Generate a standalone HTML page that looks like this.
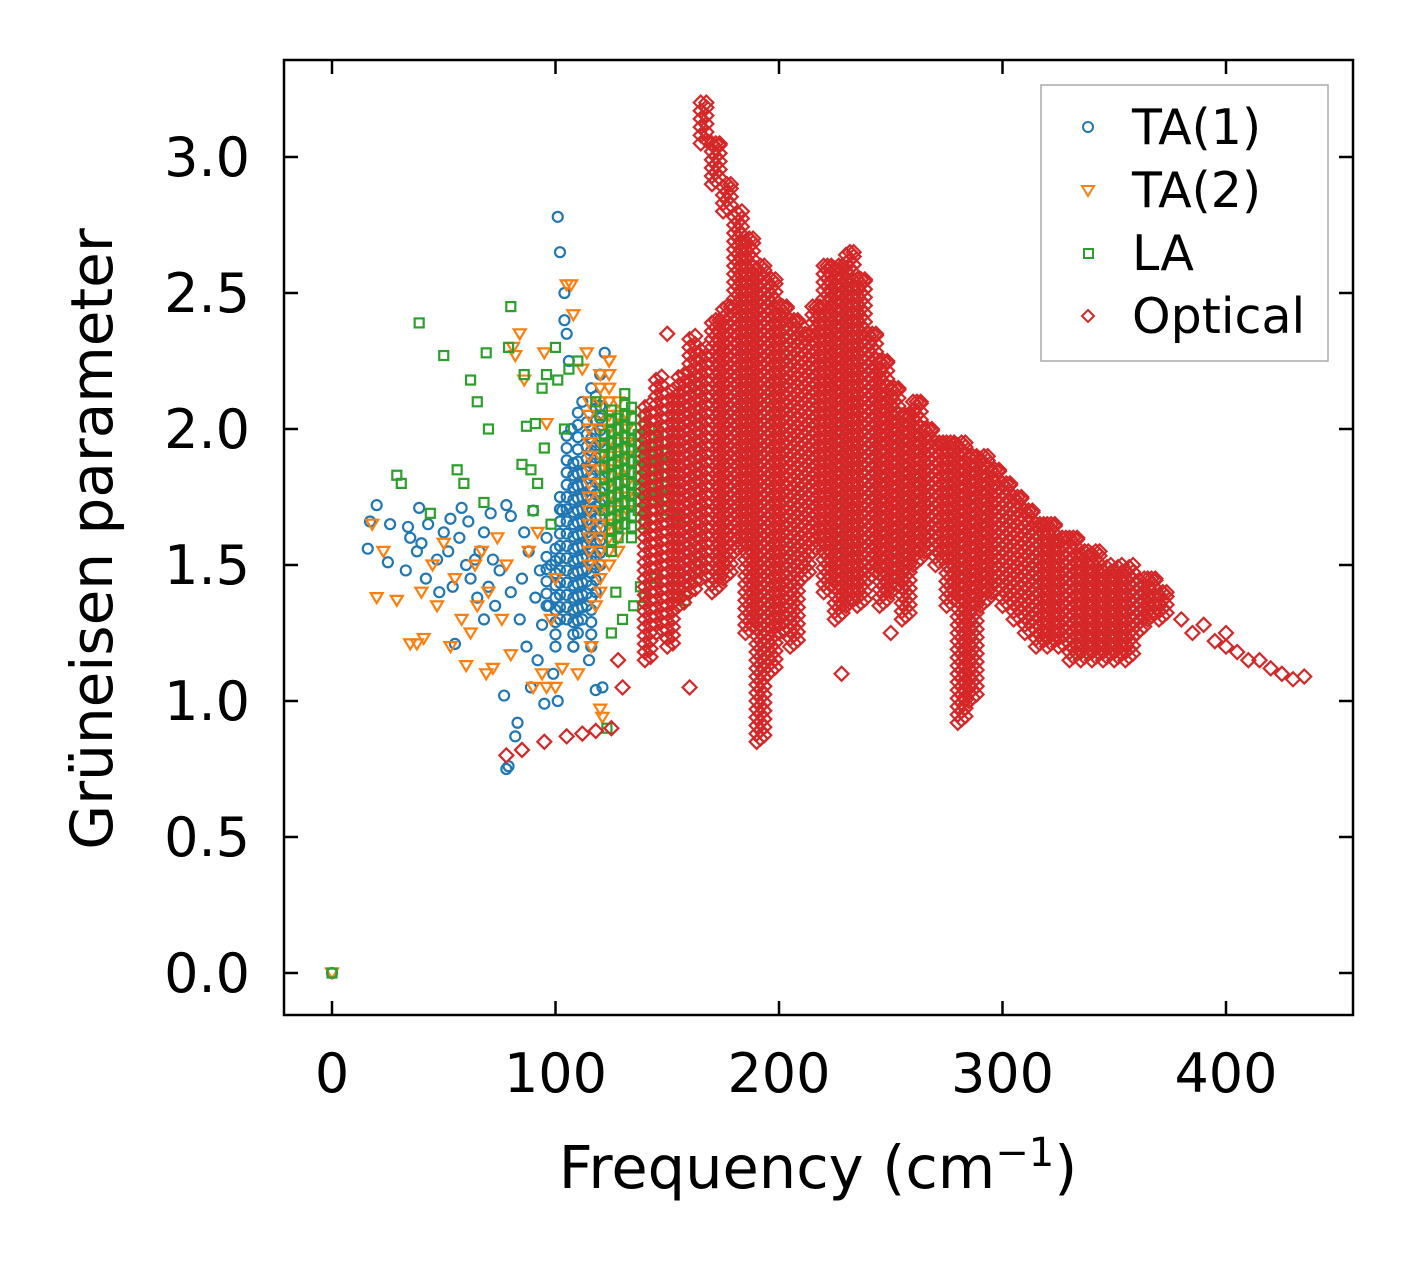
<!DOCTYPE html>
<html><head><meta charset="utf-8"><style>
body{margin:0;background:#fff}
svg{display:block;font-family:"DejaVu Sans","Liberation Sans",sans-serif}
</style></head><body>
<svg id="chart" width="1413" height="1264" viewBox="0 0 1413 1264" xmlns="http://www.w3.org/2000/svg">
<rect width="1413" height="1264" fill="#fff"/>
<g id="marks"></g>
<rect x="284" y="60" width="1069" height="955" fill="none" stroke="#000" stroke-width="2.5"/>
<g id="axes"></g>
<text x="818" y="1188" font-size="59" text-anchor="middle">Frequency (cm<tspan dy="-22" font-size="40">−1</tspan><tspan dy="22">)</tspan></text>
<text transform="translate(112,539) rotate(-90)" font-size="58" text-anchor="middle">Grüneisen parameter</text>
<g>
<rect x="1041" y="85" width="287" height="276" fill="#fff" stroke="#aaa" stroke-width="1.5"/>
<circle cx="1088" cy="127" r="5" fill="none" stroke="#1f77b4" stroke-width="2"/>
<text x="1132" y="144" font-size="49">TA(1)</text>
<path d="M1082,186 L1094,186 L1088,196 Z" fill="none" stroke="#ff7f0e" stroke-width="2"/>
<text x="1132" y="207" font-size="49">TA(2)</text>
<rect x="1084" y="249" width="9" height="9" fill="none" stroke="#2ca02c" stroke-width="2"/>
<text x="1132" y="270" font-size="49">LA</text>
<path d="M1088,310 L1094,316 L1088,322 L1082,316 Z" fill="none" stroke="#d62728" stroke-width="2"/>
<text x="1132" y="333" font-size="49">Optical</text>
</g>
</svg>
<script>
const xTicks = [0, 100, 200, 300, 400];
const yTicks = [0.0, 0.5, 1.0, 1.5, 2.0, 2.5, 3.0];
const yTickLabels = ["0.0","0.5","1.0","1.5","2.0","2.5","3.0"];
const ta1Points = [[0,0],[16,1.56],[17,1.66],[20,1.72],[25,1.51],[26,1.65],[33,1.48],[34,1.64],[35,1.6],[38,1.55],[39,1.71],[40,1.58],[42,1.45],[43,1.65],[47,1.52],[48,1.4],[50,1.62],[52,1.55],[53,1.67],[54,1.42],[55,1.21],[57,1.6],[58,1.71],[60,1.5],[61,1.66],[62,1.45],[64,1.52],[65,1.38],[66,1.55],[68,1.3],[68,1.62],[70,1.42],[71,1.69],[72,1.52],[73,1.35],[75,1.48],[77,1.02],[78,1.72],[79,0.76],[78,0.75],[80,1.68],[80,1.4],[82,0.87],[83,0.92],[84,1.3],[85,1.45],[86,1.62],[87,1.2],[88,1.55],[89,1.05],[90,1.7],[91,1.38],[92,1.15],[93,1.48],[94,1.28],[95,0.99],[96,1.6],[97,1.35],[98,1.5],[99,1.1],[101,2.78],[101,1.0],[102,2.65],[103,1.7],[104,2.5],[104,2.4],[105,2.35],[106,2.25],[107,2.0],[108,1.2],[115,1.15],[118,1.04],[121,1.05],[122,2.28],[120,2.2],[116,2.15],[112,2.1]];
const ta1Bands = [[96,1.35,1.55],[100,1.2,1.6],[102,1.3,1.75],[105,1.3,2.0],[108,1.2,1.9],[110,1.25,2.1],[112,1.3,1.85],[114,1.35,2.05],[116,1.2,2.0],[118,1.4,2.15],[120,1.5,2.1]];
const ta2Points = [[0,0],[18,1.65],[20,1.38],[23,1.55],[29,1.37],[35,1.21],[38,1.21],[40,1.4],[41,1.23],[45,1.5],[47,1.35],[50,1.58],[53,1.2],[55,1.45],[58,1.3],[60,1.13],[62,1.25],[64,1.5],[65,1.35],[67,1.55],[69,1.1],[70,1.4],[72,1.12],[74,1.6],[76,1.3],[78,1.5],[80,1.17],[81,2.3],[82,2.27],[84,2.35],[86,2.18],[88,1.55],[90,1.05],[92,1.62],[94,1.1],[95,2.28],[96,1.05],[98,1.3],[100,1.05],[103,1.12],[105,2.53],[107,2.53],[108,2.42],[110,1.1],[112,2.22],[114,2.28],[116,1.2],[118,1.35],[120,0.97],[121,0.94],[124,2.25],[126,1.65],[128,1.55],[100,1.45],[96,2.02]];
const ta2Bands = [[115,1.5,2.1],[120,1.4,2.2],[124,1.5,2.25],[128,1.6,2.1],[132,1.7,2.05]];
const laPoints = [[0,0],[29,1.83],[31,1.8],[39,2.39],[44,1.69],[50,2.27],[56,1.85],[59,1.8],[62,2.18],[65,2.1],[69,2.28],[70,2.0],[68,1.73],[80,2.45],[79,2.3],[86,2.2],[87,2.01],[85,1.87],[89,1.85],[90,1.7],[91,2.02],[92,1.8],[94,2.15],[95,1.93],[96,2.2],[98,1.65],[100,2.3],[101,2.18],[104,2.0],[106,2.22],[110,2.25],[118,2.1],[123,0.9],[125,1.25],[127,1.4],[130,1.3],[135,1.35],[138,1.42],[140,1.38],[145,1.45],[150,1.7],[154,1.67],[158,1.37],[120,2.05]];
const laBands = [[122,1.7,2.0],[125,1.55,2.1],[128,1.6,2.05],[131,1.65,2.15],[134,1.6,2.1],[137,1.7,2.0],[140,1.65,2.05],[143,1.7,1.95],[146,1.75,2.0],[149,1.75,1.95]];
const opticalBands = [[140,1.15,2.1],[145,1.25,2.2],[150,1.2,2.15],[155,1.35,2.2],[160,1.4,2.35],[165,1.45,2.3],[165,3.05,3.2],[170,1.4,2.4],[170,2.9,3.05],[175,1.45,2.45],[175,2.8,2.9],[180,1.55,2.8],[185,1.25,2.7],[190,0.85,2.6],[195,1.1,2.55],[200,1.25,2.45],[205,1.2,2.4],[210,1.45,2.35],[215,1.55,2.45],[220,1.4,2.6],[225,1.3,2.6],[230,1.35,2.65],[235,1.35,2.55],[240,1.45,2.35],[245,1.35,2.25],[250,1.4,2.15],[255,1.3,2.05],[260,1.5,2.1],[265,1.55,2.0],[270,1.5,1.95],[275,1.35,1.95],[280,0.92,1.95],[285,1.0,1.9],[290,1.35,1.9],[295,1.4,1.85],[300,1.35,1.8],[305,1.3,1.75],[310,1.25,1.7],[315,1.2,1.65],[320,1.2,1.65],[325,1.2,1.6],[330,1.15,1.6],[335,1.15,1.55],[340,1.15,1.55],[345,1.15,1.5],[350,1.15,1.5],[355,1.15,1.5],[360,1.25,1.45],[365,1.3,1.45],[370,1.3,1.4]];
const opticalPoints = [[78,0.8],[85,0.82],[95,0.85],[105,0.87],[112,0.88],[118,0.89],[125,0.9],[128,1.15],[130,1.05],[150,2.35],[380,1.3],[385,1.25],[390,1.28],[395,1.22],[400,1.2],[400,1.25],[405,1.18],[410,1.15],[415,1.15],[420,1.12],[425,1.1],[430,1.08],[435,1.09],[160,1.05],[228,1.1],[250,1.25]];

const X0=332, XS=2.235, Y0=973, YS=272;
const xPos = f => X0 + f*XS;
const yPos = g => Y0 - g*YS;
const NS = "http://www.w3.org/2000/svg";
const marks = document.getElementById('marks');
const axes = document.getElementById('axes');

function marker(kind, f, g, name){
  const x = xPos(f), y = yPos(g);
  let el;
  if(kind==='circle'){ el=document.createElementNS(NS,'circle'); el.setAttribute('cx',x); el.setAttribute('cy',y); el.setAttribute('r',5); el.setAttribute('stroke','#1f77b4'); }
  else if(kind==='tri'){ el=document.createElementNS(NS,'path'); el.setAttribute('d',`M${x-6},${y-4.5} L${x+6},${y-4.5} L${x},${y+5.5} Z`); el.setAttribute('stroke','#ff7f0e'); }
  else if(kind==='sq'){ el=document.createElementNS(NS,'rect'); el.setAttribute('x',x-4.5); el.setAttribute('y',y-4.5); el.setAttribute('width',9); el.setAttribute('height',9); el.setAttribute('stroke','#2ca02c'); }
  else { el=document.createElementNS(NS,'path'); el.setAttribute('d',`M${x},${y-7} L${x+7},${y} L${x},${y+7} L${x-7},${y} Z`); el.setAttribute('stroke','#d62728'); }
  el.setAttribute('fill','none');
  el.setAttribute('stroke-width','2.2');
  
  
  marks.appendChild(el);
}
function drawSeries(kind, pts, bands, name, step){
  pts.forEach(p=>marker(kind,p[0],p[1],name));
  bands.forEach(b=>{ for(let g=b[1]; g<=b[2]+1e-9; g+=step) marker(kind,b[0],g,name); });
}
drawSeries('circle', ta1Points, ta1Bands, 'ta1-point', 0.045);
drawSeries('tri', ta2Points, ta2Bands, 'ta2-point', 0.05);
drawSeries('sq', laPoints, laBands, 'la-point', 0.04);
drawSeries('dia', opticalPoints, [], 'optical-point', 0.04);
opticalBands.forEach(b=>{
  const offs = b[0] < 170 ? [0, 2.5] : [0, 1.7, 3.4];
  for(let g=b[1]; g<=b[2]+1e-9; g+=0.03){
    offs.forEach((o,i)=>marker('dia', b[0]+o, Math.min(g+i*0.012, b[2]), 'optical-point'));
  }
});

function line(x1,y1,x2,y2,name){
  const l=document.createElementNS(NS,'line');
  l.setAttribute('x1',x1);l.setAttribute('y1',y1);l.setAttribute('x2',x2);l.setAttribute('y2',y2);
  l.setAttribute('stroke','#000');l.setAttribute('stroke-width','2.5');
  
  
  axes.appendChild(l);
}
function text(x,y,s,anchor,name){
  const t=document.createElementNS(NS,'text');
  t.setAttribute('x',x);t.setAttribute('y',y);t.setAttribute('font-size','54');t.setAttribute('text-anchor',anchor);
  t.textContent=s;
  
  
  axes.appendChild(t);
}
xTicks.forEach(v=>{
  const x=xPos(v);
  line(x,1015,x,1001,'x-tick');
  line(x,60,x,74,'x-tick-top');
  text(x,1092,String(v),'middle','x-tick-label');
});
yTicks.forEach((v,i)=>{
  const y=yPos(v);
  line(284,y,298,y,'y-tick');
  line(1353,y,1339,y,'y-tick-right');
  text(250,y+19,yTickLabels[i],'end','y-tick-label');
});
</script>
</body></html>
